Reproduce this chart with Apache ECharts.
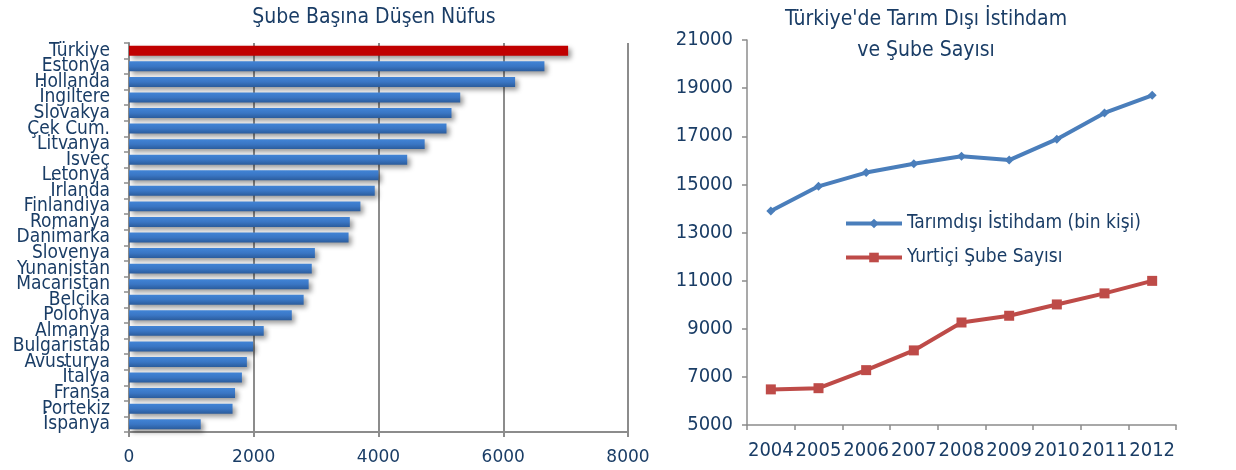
<!DOCTYPE html>
<html>
<head>
<meta charset="utf-8">
<script src="https://cdn.jsdelivr.net/npm/echarts@6/dist/echarts.min.js"></script>
<style>html,body{margin:0;padding:0;background:#fff}#c{width:1236px;height:470px}</style>
</head>
<body>
<div id="c"></div>
<script>
const countries = ['Türkiye','Estonya','Hollanda','İngiltere','Slovakya','Çek Cum.','Litvanya','İsveç','Letonya','İrlanda','Finlandiya','Romanya','Danimarka','Slovenya','Yunanistan','Macaristan','Belçika','Polonya','Almanya','Bulgaristab','Avusturya','İtalya','Fransa','Portekiz','İspanya'];
const nufus = [7040,6660,6190,5310,5170,5090,4740,4460,4000,3940,3710,3540,3520,2980,2930,2880,2800,2610,2160,1990,1890,1810,1700,1660,1150];
const years = ['2004','2005','2006','2007','2008','2009','2010','2011','2012'];
const istihdam = [13890,14920,15490,15860,16170,16010,16880,17970,18700];
const sube = [6480,6530,7280,8100,9260,9540,10010,10470,10990];
const leftTicks = [0,2000,4000,6000,8000];
const rightTicks = [5000,7000,9000,11000,13000,15000,17000,19000,21000];

const FONT = "'Liberation Sans Narrow','DejaVu Sans Condensed','Liberation Sans',sans-serif";
const TXT = '#1a3d66';
const GRAY = '#8c8c8c';

const chart = echarts.init(document.getElementById('c'));
const blueGrad = new echarts.graphic.LinearGradient(0,0,0,1,[{offset:0,color:'#4184d6'},{offset:0.5,color:'#3a76c4'},{offset:1,color:'#2b5c9c'}]);
const plain = v => String(v);

chart.setOption({
  animation:false,
  title:[
    {text:'Şube Başına Düşen Nüfus', left:369, top:2, textAlign:'center',
     textStyle:{fontFamily:FONT,fontSize:21,fontWeight:'normal',color:TXT}},
    {text:"Türkiye'de Tarım Dışı İstihdam\nve Şube Sayısı", left:921, top:-1, textAlign:'center',
     textStyle:{fontFamily:FONT,fontSize:21,fontWeight:'normal',color:TXT,lineHeight:31}}
  ],
  legend:{
    orient:'vertical', left:839, top:209, itemWidth:56, itemHeight:12, itemGap:15,
    textStyle:{fontFamily:FONT,fontSize:19,color:TXT},
    data:[
      {name:'Tarımdışı İstihdam (bin kişi)', lineStyle:{width:4}},
      {name:'Yurtiçi Şube Sayısı', lineStyle:{width:4}}
    ]
  },
  grid:[
    {left:129, right:608, top:43, bottom:38},
    {left:747, right:60, top:40, bottom:45}
  ],
  xAxis:[
    {gridIndex:0, type:'value', min:leftTicks[0], max:leftTicks[leftTicks.length-1], interval:2000,
     axisLine:{show:true,lineStyle:{color:GRAY,width:2}},
     axisTick:{show:true,length:5,lineStyle:{color:GRAY,width:2}},
     splitLine:{show:true,lineStyle:{color:GRAY,width:2}},
     axisLabel:{fontFamily:"'DejaVu Sans',sans-serif",fontSize:17,color:TXT,margin:17,formatter:plain}},
    {gridIndex:1, type:'category', data:years, boundaryGap:true,
     axisLine:{show:true,lineStyle:{color:GRAY,width:1.5}},
     axisTick:{show:true,length:5,alignWithLabel:false,interval:0,lineStyle:{color:GRAY,width:1.5}},
     axisLabel:{fontFamily:FONT,fontSize:20,color:TXT,margin:16,interval:0}}
  ],
  yAxis:[
    {gridIndex:0, type:'category', data:countries, inverse:true,
     axisLine:{show:true,lineStyle:{color:GRAY,width:2}},
     axisTick:{show:true,length:5,lineStyle:{color:GRAY,width:1.5}},
     axisLabel:{fontFamily:FONT,fontSize:19,color:TXT,margin:19,interval:0}},
    {gridIndex:1, type:'value', min:rightTicks[0], max:rightTicks[rightTicks.length-1], interval:2000,
     axisLine:{show:true,lineStyle:{color:GRAY,width:1.5}},
     axisTick:{show:true,length:5,lineStyle:{color:GRAY,width:1.5}},
     splitLine:{show:false},
     axisLabel:{fontFamily:FONT,fontSize:20,color:TXT,margin:14,formatter:plain}}
  ],
  series:[
    {type:'bar', xAxisIndex:0, yAxisIndex:0, barWidth:'64%',
     data:nufus.map((v,i)=>({value:v,itemStyle:{color:i===0?'#c00000':blueGrad}})),
     itemStyle:{shadowColor:'rgba(0,0,0,0.4)',shadowBlur:5,shadowOffsetX:3,shadowOffsetY:3}},
    {type:'line', name:'Tarımdışı İstihdam (bin kişi)', xAxisIndex:1, yAxisIndex:1, data:istihdam,
     symbol:'diamond', symbolSize:9, lineStyle:{color:'#4a7ebb',width:4},
     itemStyle:{color:'#4a7ebb'}},
    {type:'line', name:'Yurtiçi Şube Sayısı', xAxisIndex:1, yAxisIndex:1, data:sube,
     symbol:'rect', symbolSize:10, lineStyle:{color:'#be4b48',width:4},
     itemStyle:{color:'#be4b48'}}
  ]
});
</script>
</body>
</html>
